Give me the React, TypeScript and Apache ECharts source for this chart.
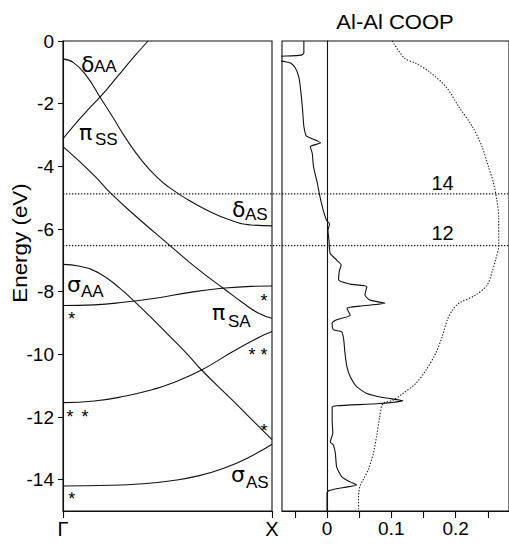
import React, { useEffect, useRef } from 'react';
import * as echarts from 'echarts';

// ---------- data ----------
const energyTicks = [0, -2, -4, -6, -8, -10, -12, -14];
const kTicks = [0, 1];
const kTickLabels = ['Γ', 'X'];
const coopTicks = [-0.05, 0, 0.05, 0.1, 0.15, 0.2, 0.25];
const coopTickLabels = [0, 0.1, 0.2];

// band structure: [k (Γ=0 .. X=1), energy eV]
const bandDeltaAA: number[][] = [
  [0, -0.58], [0.05, -0.69], [0.113, -1.12], [0.179, -1.81], [0.24, -2.45], [0.3, -3.1],
  [0.38, -3.84], [0.46, -4.41], [0.51, -4.68], [0.57, -4.95], [0.68, -5.37], [0.81, -5.74],
  [0.9, -5.87], [1, -5.9],
];
const bandPiSS: number[][] = [
  [0, -3.12], [0.05, -2.72], [0.11, -2.26], [0.18, -1.77], [0.26, -1.14], [0.335, -0.54], [0.407, 0],
];
const bandPiSA: number[][] = [
  [0, -3.37], [0.08, -3.85], [0.15, -4.3], [0.232, -4.88], [0.35, -5.6], [0.512, -6.53],
  [0.647, -7.29], [0.775, -7.93], [0.855, -8.33], [0.934, -8.68], [1, -8.85],
];
const bandSigmaAA: number[][] = [
  [0, -7.13], [0.08, -7.19], [0.175, -7.42], [0.27, -7.88], [0.34, -8.3], [0.415, -8.78],
  [0.51, -9.42], [0.6, -10.03], [0.663, -10.5], [0.807, -11.44], [0.918, -12.18], [1, -12.72],
];
const bandFlat: number[][] = [
  [0, -8.44], [0.15, -8.42], [0.3, -8.33], [0.45, -8.2], [0.6, -8.03], [0.75, -7.9], [0.9, -7.83], [1, -7.82],
];
const bandRising: number[][] = [
  [0, -11.54], [0.15, -11.49], [0.3, -11.33], [0.43, -11.12], [0.51, -10.95], [0.663, -10.5],
  [0.815, -9.9], [0.943, -9.44], [1, -9.27],
];
const bandSigmaAS: number[][] = [
  [0, -14.2], [0.225, -14.18], [0.38, -14.13], [0.51, -14.04], [0.647, -13.88], [0.775, -13.62],
  [0.886, -13.3], [1, -12.87],
];

// Al-Al COOP: [value, energy eV]
const coopCurve: number[][] = [
  [-0.036, 0], [-0.036, -0.38], [-0.04, -0.45], [-0.09, -0.52], [-0.085, -0.6], [-0.065, -0.66],
  [-0.056, -0.71], [-0.049, -0.87], [-0.044, -1.14], [-0.041, -1.56], [-0.038, -2.2], [-0.036, -2.73],
  [-0.033, -3.0], [-0.031, -3.05], [-0.01, -3.25], [-0.026, -3.37], [-0.023, -3.58], [-0.021, -4.01],
  [-0.015, -4.54], [-0.011, -4.97], [-0.006, -5.39], [-0.001, -5.71], [0.004, -5.84], [0.0015, -6.03],
  [0.003, -6.35], [0.005, -6.78], [0.015, -6.99], [0.022, -7.15], [0.019, -7.36], [0.018, -7.63],
  [0.036, -7.76], [0.062, -7.84], [0.059, -8.11], [0.067, -8.27], [0.09, -8.37], [0.051, -8.46],
  [0.031, -8.53], [0.036, -8.75], [0.015, -8.9], [0.008, -9.01], [0.01, -9.22], [0.023, -9.28],
  [0.026, -9.54], [0.028, -9.97], [0.031, -10.4], [0.036, -10.71], [0.046, -11.03], [0.062, -11.25],
  [0.087, -11.38], [0.118, -11.48], [0.082, -11.57], [0.015, -11.64], [0.008, -11.69], [0.008, -12.1],
  [0.009, -12.52], [0.005, -12.79], [0.01, -12.9], [0.013, -13.16], [0.015, -13.59], [0.023, -13.91],
  [0.036, -14.07], [0.046, -14.17], [0.026, -14.25], [0.003, -14.35], [0, -14.42], [0, -15],
];
const coopIntegrated: number[][] = [
  [0.1015, 0], [0.1205, -0.55], [0.138, -0.71], [0.159, -0.98], [0.185, -1.46], [0.205, -2.1],
  [0.226, -2.73], [0.241, -3.37], [0.251, -4.01], [0.259, -4.54], [0.264, -5.07], [0.267, -5.61],
  [0.267, -6.53], [0.262, -6.99], [0.257, -7.35], [0.249, -7.79], [0.231, -8.11], [0.205, -8.37],
  [0.195, -8.59], [0.187, -8.9], [0.179, -9.44], [0.169, -9.97], [0.154, -10.5], [0.138, -10.93],
  [0.118, -11.25], [0.103, -11.46], [0.087, -11.57], [0.082, -11.99], [0.077, -12.63], [0.072, -13.16],
  [0.064, -13.69], [0.056, -14.01], [0.051, -14.22], [0.049, -14.54], [0.049, -15],
];

// Fermi levels for 14 and 12 electrons
const fermiLevels = [-4.88, -6.53];
const fermiLabels = ['14', '12'];

const bandLabelTexts = [
  ['δ', 'AA'], ['π', 'SS'], ['δ', 'AS'], ['σ', 'AA'], ['π', 'SA'], ['σ', 'AS'],
];

// ---------- layout of annotations (pixels) ----------
const FONT = '"Liberation Sans", Arial, Helvetica, sans-serif';
const GREEK_FONT = '"DejaVu Sans", "Liberation Sans", sans-serif';
const bandLabelLayout = [
  { gx: 81, gy: 72, sx: 94, sy: 72 },
  { gx: 79, gy: 140, sx: 95, sy: 145 },
  { gx: 232, gy: 217, sx: 245, sy: 220 },
  { gx: 67, gy: 292, sx: 81, sy: 297 },
  { gx: 212, gy: 320, sx: 228, sy: 327 },
  { gx: 231, gy: 482, sx: 246, sy: 488 },
];
const starLayout = [
  [71.7, 315], [264, 297], [252, 351], [264, 351], [70, 413], [85, 413], [264, 427], [71.7, 495],
];
const fermiLabelLayout = [
  [442.5, 182.5], [442.5, 232.5],
];

const LINE = '#111';

export default function App() {
  const ref = useRef<HTMLDivElement>(null);
  useEffect(() => {
    if (!ref.current) return;
    const chart = echarts.init(ref.current, undefined, { renderer: 'svg' });

    const bandSeries = [bandDeltaAA, bandPiSS, bandPiSA, bandSigmaAA, bandFlat, bandRising, bandSigmaAS].map(
      (d) => ({
        type: 'line',
        xAxisIndex: 0,
        yAxisIndex: 0,
        data: d,
        smooth: 0.5,
        showSymbol: false,
        silent: true,
        lineStyle: { color: LINE, width: 1.1 },
      })
    );

    const fermiSeries = fermiLevels.map((e) => ({
      type: 'line',
      xAxisIndex: 2,
      yAxisIndex: 2,
      data: [[0, e], [1, e]],
      showSymbol: false,
      silent: true,
      lineStyle: { color: LINE, width: 1.1, type: [1.3, 1.7] },
    }));

    const graphics: any[] = [];
    bandLabelTexts.forEach(([g, s], i) => {
      const L = bandLabelLayout[i];
      graphics.push({
        type: 'text', x: L.gx, y: L.gy - 8,
        style: { text: g, fontSize: 22, fontFamily: GREEK_FONT, fill: '#000', align: 'left', verticalAlign: 'middle' },
      });
      graphics.push({
        type: 'text', x: L.sx, y: L.sy - 6,
        style: { text: s, fontSize: 17, fontFamily: FONT, fill: '#000', align: 'left', verticalAlign: 'middle' },
      });
    });
    starLayout.forEach(([x, y]) => {
      graphics.push({
        type: 'text', x, y: y + 4.2,
        style: { text: '*', fontSize: 18, fontFamily: FONT, fill: '#000', align: 'center', verticalAlign: 'middle' },
      });
    });
    fermiLabels.forEach((t, i) => {
      graphics.push({
        type: 'text', x: fermiLabelLayout[i][0], y: fermiLabelLayout[i][1],
        style: { text: t, fontSize: 20, fontFamily: FONT, fill: '#000', align: 'center', verticalAlign: 'middle' },
      });
    });
    graphics.push({
      type: 'text', x: 395, y: 22, scaleX: 1.1,
      style: { text: 'Al-Al COOP', fontSize: 20, fontFamily: FONT, fill: '#000', align: 'center', verticalAlign: 'middle' },
    });
    graphics.push({
      type: 'text', x: 20, y: 243, rotation: Math.PI / 2, scaleX: 1.12,
      style: { text: 'Energy (eV)', fontSize: 20, fontFamily: FONT, fill: '#000', align: 'center', verticalAlign: 'middle' },
    });

    const axisLineStyle = { color: LINE, width: 1.1 };

    chart.setOption({
      animation: false,
      backgroundColor: '#fff',
      grid: [
        { left: 63, top: 41, width: 209, height: 470, show: true, borderColor: LINE, borderWidth: 1.1, backgroundColor: 'transparent' },
        { left: 282, top: 41, width: 229, height: 470, show: true, borderColor: LINE, borderWidth: 1.1, backgroundColor: 'transparent' },
        { left: 63, top: 41, width: 446, height: 470, show: false },
      ],
      xAxis: [
        {
          type: 'value', gridIndex: 0, min: 0, max: 1,
          axisLine: { show: true, onZero: false, lineStyle: axisLineStyle },
          axisTick: { show: true, length: 7, customValues: kTicks, lineStyle: axisLineStyle },
          axisLabel: {
            customValues: kTicks, fontSize: 20, fontFamily: FONT, color: '#000', margin: 8,
            formatter: (v: number) => kTickLabels[kTicks.indexOf(v)] ?? '',
          },
          splitLine: { show: false },
        },
        {
          type: 'value', gridIndex: 1, min: -0.07, max: 0.283,
          axisLine: { show: true, onZero: false, lineStyle: axisLineStyle },
          axisTick: { show: true, length: 7, customValues: coopTicks, lineStyle: axisLineStyle },
          axisLabel: {
            customValues: coopTickLabels, fontSize: 19, fontFamily: FONT, color: '#000', margin: 8,
            formatter: (v: number) => String(v),
          },
          splitLine: { show: false },
        },
        { type: 'value', gridIndex: 2, min: 0, max: 1, show: false },
      ],
      yAxis: [
        {
          type: 'value', gridIndex: 0, min: -15, max: 0,
          axisLine: { show: true, onZero: false, lineStyle: axisLineStyle },
          axisTick: { show: true, length: 5, customValues: energyTicks, lineStyle: axisLineStyle },
          axisLabel: { customValues: energyTicks, fontSize: 19, fontFamily: FONT, color: '#000', margin: 9 },
          splitLine: { show: false },
        },
        {
          type: 'value', gridIndex: 1, min: -15, max: 0,
          axisLine: { show: true, onZero: true, lineStyle: axisLineStyle },
          axisTick: { show: false },
          axisLabel: { show: false },
          splitLine: { show: false },
        },
        { type: 'value', gridIndex: 2, min: -15, max: 0, show: false },
      ],
      series: [
        ...bandSeries,
        {
          type: 'line', xAxisIndex: 1, yAxisIndex: 1, data: coopCurve, smooth: 0.2,
          showSymbol: false, silent: true, lineStyle: { color: LINE, width: 1.1 },
        },
        {
          type: 'line', xAxisIndex: 1, yAxisIndex: 1, data: coopIntegrated, smooth: 0.3,
          showSymbol: false, silent: true, lineStyle: { color: LINE, width: 1.1, type: [1.3, 1.7] },
        },
        ...fermiSeries,
      ],
      graphic: graphics,
    });

    return () => chart.dispose();
  }, []);

  return <div ref={ref} style={{ position: 'fixed', left: 0, top: 0, width: 509, height: 544 }} />;
}
